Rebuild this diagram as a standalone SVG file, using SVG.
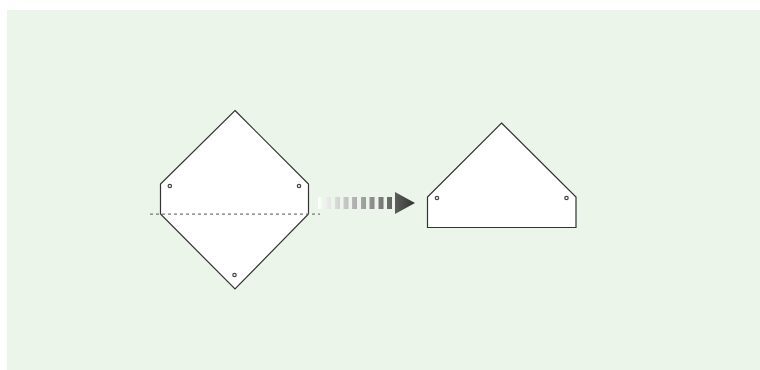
<svg xmlns="http://www.w3.org/2000/svg" width="760" height="370" viewBox="0 0 760 370">
<defs>
<linearGradient id="fade" gradientUnits="userSpaceOnUse" x1="318" y1="0" x2="415" y2="0">
<stop offset="0" stop-color="#ffffff"/>
<stop offset="1" stop-color="#333333"/>
</linearGradient>
</defs>
<style>
.shape{fill:#fff;stroke:#333;stroke-width:1.200}
.hole{fill:#fff;stroke:#444;stroke-width:1.200}
.fold{fill:none;stroke:#777;stroke-width:1.200;stroke-dasharray:3 3}
</style>
<rect x="7" y="10" width="753" height="360" fill="#ebf5ea"/>
<g id="square-open">
<path class="shape" d="M235 110.500L308.500 184V214L235 289L160.500 214V184Z"/>
<circle class="hole" cx="169.800" cy="186" r="1.700"/>
<circle class="hole" cx="299" cy="186" r="1.700"/>
<circle class="hole" cx="234.500" cy="275" r="1.700"/>
</g>
<g id="square-folded">
<path class="shape" d="M501.500 123L576 197V227.500H427.500V197Z"/>
<circle class="hole" cx="437" cy="198" r="1.700"/>
<circle class="hole" cx="566.500" cy="198" r="1.700"/>
</g>
<g id="connectors">
<line class="fold" x1="150" y1="214.200" x2="320" y2="214.200"/>
<path fill="url(#fade)" d="M318 197h4v12h-4ZM326 197h5v12h-5ZM335 197h5v12h-5ZM343.500 197h5v12h-5ZM352 197h5v12h-5ZM361 197h5v12h-5ZM369.500 197h5v12h-5ZM378.500 197h5v12h-5ZM387 197h5v12h-5ZM395 192L415 203L395 214Z"/>
</g>
</svg>
